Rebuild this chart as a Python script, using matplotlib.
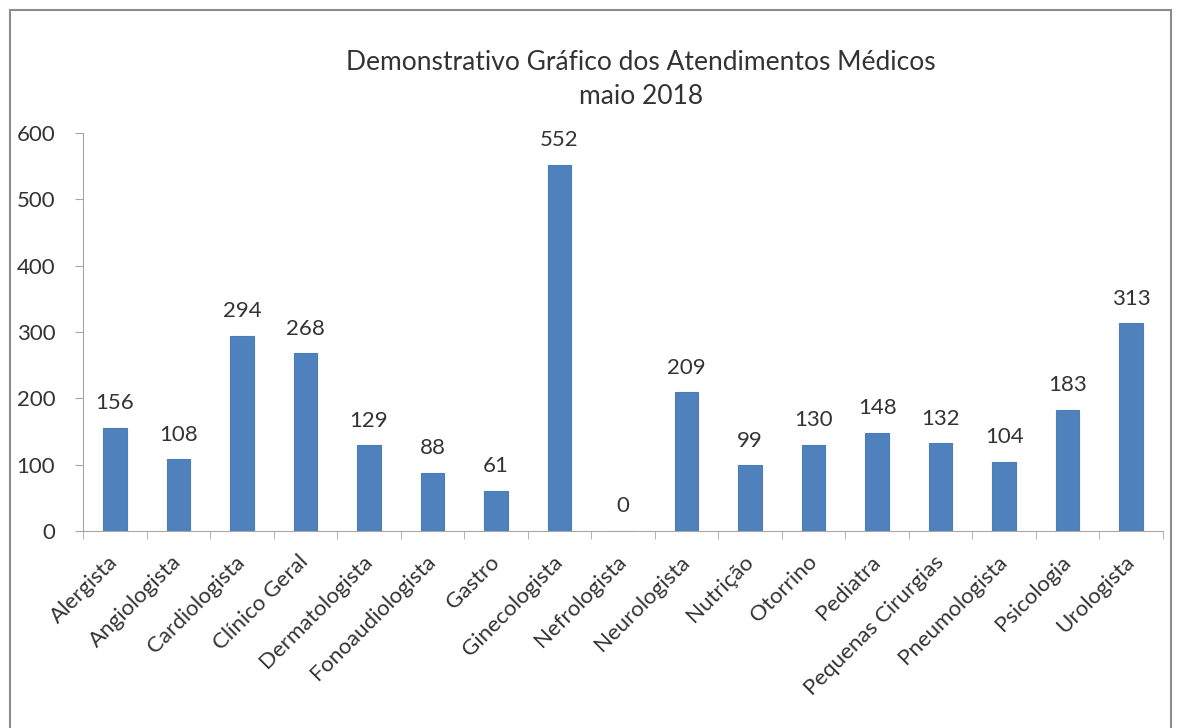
import matplotlib
matplotlib.use('Agg')
import matplotlib.pyplot as plt
import numpy as np
from matplotlib.patches import Rectangle

categories = ['Alergista', 'Angiologista', 'Cardiologista', 'Clínico Geral', 'Dermatologista',
              'Fonoaudiologista', 'Gastro', 'Ginecologista', 'Nefrologista', 'Neurologista',
              'Nutrição', 'Otorrino', 'Pediatra', 'Pequenas Cirurgias', 'Pneumologista',
              'Psicologia', 'Urologista']
values = [156, 108, 294, 268, 129, 88, 61, 552, 0, 209, 99, 130, 148, 132, 104, 183, 313]
yticks = [0, 100, 200, 300, 400, 500, 600]

plt.rcParams['font.family'] = ['Lato', 'DejaVu Sans']
text_color = '#333333'
spine_color = '#a6a6a6'

fig = plt.figure(figsize=(11.81, 7.28), dpi=100)
fig.patches.append(Rectangle((10 / 1181, -0.01), 1161 / 1181, 1 - 10 / 728 + 0.01,
                             transform=fig.transFigure, fill=False,
                             edgecolor='#8c8c8c', linewidth=1.5))

ax = fig.add_axes([83 / 1181, 1 - 531 / 728, (1163 - 83) / 1181, (531 - 133) / 728])
x = np.arange(len(categories))
ax.bar(x, values, width=0.37, color='#4f81bd', edgecolor='#4a7ebb', linewidth=0.8)

for xi, v in zip(x, values):
    ax.text(xi, v + 22, str(v), ha='center', va='bottom', fontsize=16, color=text_color)

ax.set_xlim(-0.5, len(categories) - 0.5)
ax.set_ylim(0, 600)
ax.set_yticks(yticks)
ax.set_yticklabels([str(t) for t in yticks], fontsize=16, color=text_color)
ax.set_xticks(x)
ax.set_xticklabels(categories, rotation=45, ha='right', va='center', rotation_mode='anchor',
                   fontsize=16, color=text_color)
ax.set_xticks(np.arange(len(categories) + 1) - 0.5, minor=True)
ax.tick_params(axis='x', which='major', length=0, pad=20)
ax.tick_params(axis='x', which='minor', length=6, color=spine_color, direction='out')
ax.tick_params(axis='y', length=6, color=spine_color, direction='out', pad=14)

for s in ['top', 'right']:
    ax.spines[s].set_visible(False)
for s in ['left', 'bottom']:
    ax.spines[s].set_color(spine_color)

fig.text(641 / 1181, 1 - 62 / 728, 'Demonstrativo Gráfico dos Atendimentos Médicos',
         ha='center', va='center', fontsize=19, color=text_color)
fig.text(641 / 1181, 1 - 97 / 728, 'maio 2018',
         ha='center', va='center', fontsize=19, color=text_color)

fig.savefig('out.png', dpi=100)
